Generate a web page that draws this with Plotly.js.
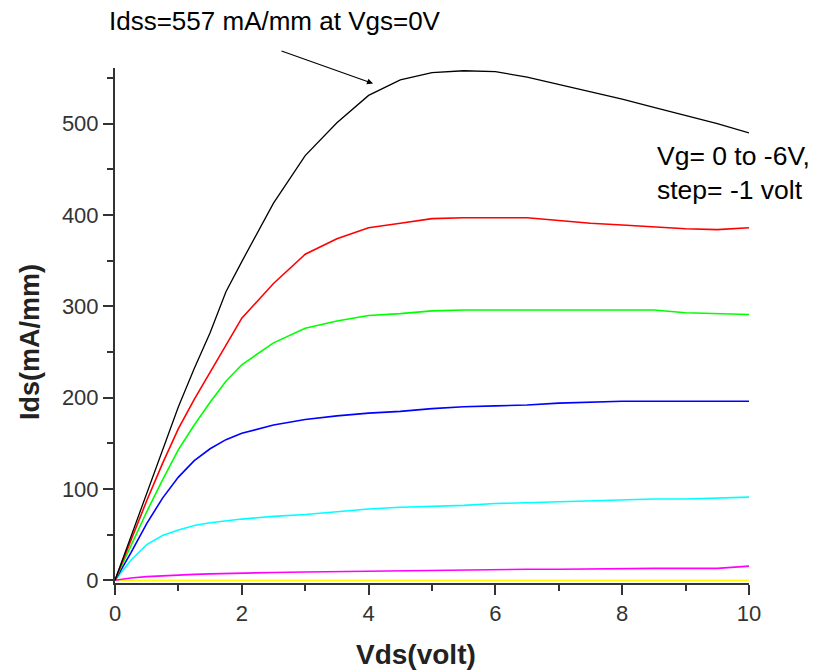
<!DOCTYPE html>
<html>
<head>
<meta charset="utf-8">
<script src="https://cdn.plot.ly/plotly-3.0.1.min.js"></script>
<style>html,body{margin:0;padding:0;background:#fff;}#chart{width:821px;height:672px;}</style>
</head>
<body>
<div id="chart"></div>
<script>
// Drain voltage grid (V)
const vds = [0, 0.25, 0.5, 0.75, 1, 1.25, 1.5, 1.75, 2, 2.5, 3, 3.5, 4, 4.5, 5, 5.5, 6, 6.5, 7, 7.5, 8, 8.5, 9, 9.5, 10];
// Ids (mA/mm) for Vg = 0 ... -6 V
const idsVg0  = [0, 48, 95, 143, 190, 232, 271, 316, 349, 413, 465, 501, 531, 548, 556, 558, 557, 551, 543, 535, 527, 518, 509, 500, 490];
const idsVg1  = [0, 44, 87, 128, 166, 198, 228, 258, 287, 325, 357, 374, 386, 391, 396, 397, 397, 397, 394, 391, 389, 387, 385, 384, 386];
const idsVg2  = [0, 38, 75, 110, 143, 170, 195, 218, 236, 260, 276, 284, 290, 292, 295, 296, 296, 296, 296, 296, 296, 296, 293, 292, 291];
const idsVg3  = [0, 30, 62, 90, 113, 131, 144, 154, 161, 170, 176, 180, 183, 185, 188, 190, 191, 192, 194, 195, 196, 196, 196, 196, 196];
const idsVg4  = [0, 22, 39, 49, 55, 60, 63, 65, 67, 70, 72, 75, 78, 80, 81, 82, 84, 85, 86, 87, 88, 89, 89, 90, 91];
const idsVg5  = [0, 2.5, 4, 5, 6, 6.5, 7, 7.5, 8, 8.5, 9, 9.5, 10, 10.5, 11, 11, 11.5, 12, 12, 12.5, 12.5, 13, 13, 13, 15.5];
const idsVg6  = [0, 0, 0, 0, 0, 0, 0, 0, 0, 0, 0, 0, 0, 0, 0, 0, 0, 0, 0, 0, 0, 0, 0, 0, 0];
const seriesNames = ['Vg=0V', 'Vg=-1V', 'Vg=-2V', 'Vg=-3V', 'Vg=-4V', 'Vg=-5V', 'Vg=-6V'];
const seriesColors = ['#000000', '#ff0000', '#00ff00', '#0000ff', '#00ffff', '#ff00ff', '#ffff00'];
const seriesValues = [idsVg0, idsVg1, idsVg2, idsVg3, idsVg4, idsVg5, idsVg6];
const xTicks = [0, 2, 4, 6, 8, 10];
const yTicks = [0, 100, 200, 300, 400, 500];
const xTitle = 'Vds(volt)';
const yTitle = 'Ids(mA/mm)';
const noteIdss = 'Idss=557 mA/mm at Vgs=0V';
const noteVg = 'Vg= 0 to -6V,<br>step= -1 volt';

const traces = [];
// draw in reverse so black is on top
for (let i = seriesValues.length - 1; i >= 0; i--) {
  traces.push({
    x: vds, y: seriesValues[i], name: seriesNames[i], type: 'scatter', mode: 'lines',
    line: {color: seriesColors[i], width: i === 0 ? 1.3 : 1.6},
    hoverinfo: 'x+y+name'
  });
}

const axisFont = {family: 'Liberation Sans, Arial, sans-serif', size: 22, color: '#333333'};
const layout = {
  width: 821, height: 672,
  margin: {l: 115, r: 72, t: 68, b: 89, pad: 0},
  paper_bgcolor: '#ffffff', plot_bgcolor: '#ffffff',
  showlegend: false,
  font: {family: 'Liberation Sans, Arial, sans-serif', color: '#000'},
  xaxis: {
    range: [0, 10], tickvals: xTicks, ticktext: xTicks.map(String),
    ticks: 'outside', ticklen: 10, tickwidth: 2, tickcolor: '#333',
    showline: true, linecolor: '#333', linewidth: 2, showgrid: false, zeroline: false,
    tickfont: axisFont,
    minor: {tickvals: [1, 3, 5, 7, 9], ticks: 'outside', ticklen: 6, tickwidth: 2, tickcolor: '#333', showgrid: false}
  },
  yaxis: {
    range: [-3, 561], tickvals: yTicks, ticktext: yTicks.map(String),
    ticks: 'outside', ticklen: 10, tickwidth: 2, tickcolor: '#333',
    showline: true, linecolor: '#333', linewidth: 2, showgrid: false, zeroline: false,
    tickfont: axisFont,
    minor: {tickvals: [50, 150, 250, 350, 450, 550], ticks: 'outside', ticklen: 6, tickwidth: 2, tickcolor: '#333', showgrid: false}
  },
  annotations: [
    {xref: 'paper', yref: 'paper', x: 0.475, y: -0.138, xanchor: 'center', yanchor: 'middle',
     text: '<b>' + xTitle + '</b>', showarrow: false,
     font: {family: 'Liberation Sans, Arial, sans-serif', size: 28, color: '#222'}},
    {xref: 'paper', yref: 'paper', x: -0.134, y: 0.468, xanchor: 'center', yanchor: 'middle',
     text: '<b>' + yTitle + '</b>', showarrow: false, textangle: -90,
     font: {family: 'Liberation Sans, Arial, sans-serif', size: 27, color: '#222'}},
    {xref: 'paper', yref: 'paper', x: -0.0126, y: 1.091, xanchor: 'left', yanchor: 'middle',
     text: noteIdss, showarrow: false,
     font: {family: 'Liberation Sans, Arial, sans-serif', size: 26, color: '#000'}},
    {xref: 'paper', yref: 'paper', x: 0.852, y: 0.796, xanchor: 'left', yanchor: 'middle', align: 'left',
     text: noteVg, showarrow: false,
     font: {family: 'Liberation Sans, Arial, sans-serif', size: 26.5, color: '#000'}},
    {xref: 'x', yref: 'y', x: 4.07, y: 544, text: '', showarrow: true,
     ax: -93, ay: -33, arrowhead: 2, arrowsize: 1, arrowwidth: 1.2, arrowcolor: '#000'}
  ]
};

Plotly.newPlot('chart', traces, layout, {displayModeBar: false, staticPlot: true});
</script>
</body>
</html>
